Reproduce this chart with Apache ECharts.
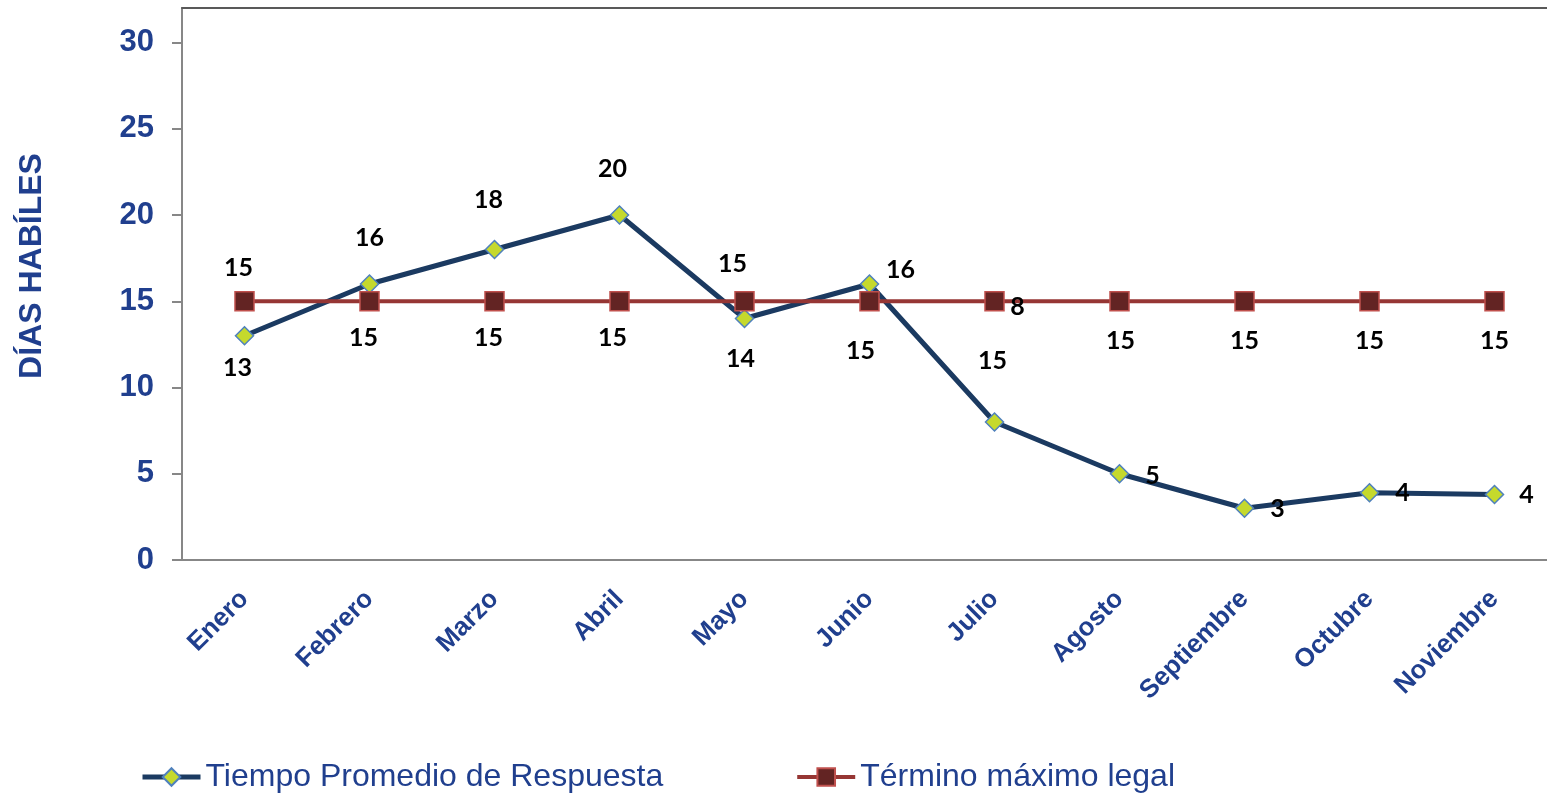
<!DOCTYPE html>
<html>
<head>
<meta charset="utf-8">
<script src="https://cdn.jsdelivr.net/npm/echarts@6/dist/echarts.min.js"></script>
<style>
  html, body { margin: 0; padding: 0; background: #fff; }
  #chart { width: 1547px; height: 794px; }
</style>
</head>
<body>
<div id="chart"></div>
<script>
// datos
const meses = ['Enero', 'Febrero', 'Marzo', 'Abril', 'Mayo', 'Junio', 'Julio', 'Agosto', 'Septiembre', 'Octubre', 'Noviembre']
const tiempoPromedio = [13, 16, 18, 20, 14, 16, 8, 5, 3, 3.9, 3.8]
const terminoMaximo = [15, 15, 15, 15, 15, 15, 15, 15, 15, 15, 15]
const yTicks = [0, 5, 10, 15, 20, 25, 30]

// desplazamiento de las etiquetas (como en el original de Excel)
const offTiempo = [[-7, 32], [0, -46], [-6, -50], [-7, -46], [-4, 40], [31, -14], [23, -115], [33, 2], [33, 1], [33, 0], [32, 0]]
const offTermino = [[-6, -33], [-6, 37], [-6, 37], [-7, 37], [-12, -37], [-9, 50], [-2, 60], [1, 40], [0, 40], [0, 40], [0, 40]]

const azul = '#203F8E'

function withLabels(values, offsets) {
	return values.map(function (v, i) {
		return { value: v, label: { offset: offsets[i] } }
	})
}

const labelStyle = {
	show: true,
	position: 'inside',
	color: '#000',
	fontFamily: 'Lato',
	fontWeight: 'bold',
	fontSize: 25,
	formatter: function (p) { return Math.round(p.value) },
}

let chart = echarts.init(document.getElementById('chart'))
let option = {
	backgroundColor: '#fff',
	animation: false,
	grid: { left: 182, top: 8, width: 1375, height: 552, containLabel: false, outerBoundsMode: 'none' },
	legend: {
		left: 135,
		top: 756,
		itemWidth: 58,
		itemHeight: 22,
		itemGap: 132,
		textStyle: { color: azul, fontFamily: 'Liberation Sans', fontSize: 32 },
		data: [
			{ name: 'Tiempo Promedio de Respuesta', lineStyle: { width: 5 } },
			{ name: 'Término máximo legal', lineStyle: { width: 4 } },
		],
	},
	xAxis: [
		{
			type: 'category',
			data: meses,
			boundaryGap: true,
			axisLine: { lineStyle: { color: '#878787', width: 2 } },
			axisTick: { length: 8, lineStyle: { color: '#878787', width: 2 } },
			axisLabel: {
				rotate: 45,
				margin: 35,
				color: azul,
				fontFamily: 'Liberation Sans',
				fontWeight: 'bold',
				fontSize: 26,
				interval: 0,
			},
		},
		{
			type: 'category',
			data: meses,
			position: 'top',
			axisLine: { lineStyle: { color: '#595959', width: 2 } },
			axisTick: { show: false },
			axisLabel: { show: false },
		},
	],
	yAxis: {
		type: 'value',
		min: 0,
		max: 32,
		interval: 5,
		name: 'DÍAS HABÍLES',
		nameLocation: 'middle',
		nameGap: 134,
		nameTextStyle: {
			color: azul,
			fontFamily: 'Liberation Sans',
			fontWeight: 'bold',
			fontSize: 32,
			padding: [0, 0, 0, 36],
		},
		axisLine: { show: true, lineStyle: { color: '#878787', width: 2 } },
		axisTick: { show: true, length: 10, customValues: yTicks, lineStyle: { color: '#878787', width: 2 } },
		axisLabel: {
			customValues: yTicks,
			margin: 28,
			color: azul,
			fontFamily: 'Liberation Sans',
			fontWeight: 'bold',
			fontSize: 31,
		},
		splitLine: { show: false },
	},
	series: [
		{
			name: 'Tiempo Promedio de Respuesta',
			type: 'line',
			data: withLabels(tiempoPromedio, offTiempo),
			symbol: 'diamond',
			symbolSize: 18,
			lineStyle: { color: '#1B3A61', width: 5 },
			itemStyle: { color: '#C5D92D', borderColor: '#4F81BD', borderWidth: 1.5 },
			label: labelStyle,
		},
		{
			name: 'Término máximo legal',
			type: 'line',
			data: withLabels(terminoMaximo, offTermino),
			symbol: 'rect',
			symbolSize: 19,
			lineStyle: { color: '#963634', width: 4 },
			itemStyle: { color: '#632423', borderColor: '#C0504D', borderWidth: 1.5 },
			label: labelStyle,
		},
	],
}
chart.setOption(option)
window.addEventListener('resize', function () {
	chart.resize()
})
</script>
</body>
</html>
